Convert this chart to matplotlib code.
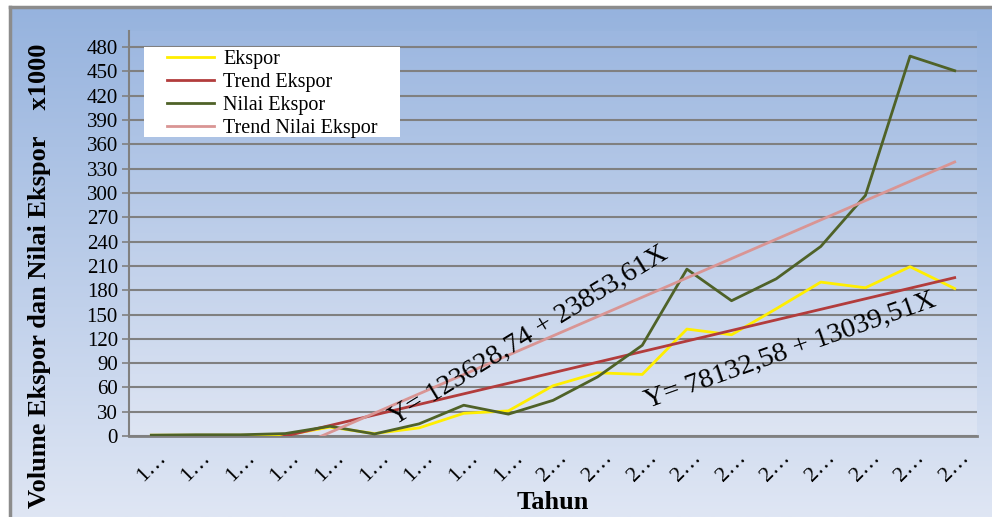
import numpy as np
import matplotlib
matplotlib.use("Agg")
import matplotlib.pyplot as plt
from matplotlib.colors import LinearSegmentedColormap
from matplotlib.patches import Rectangle

# data (x1000)
tahun = ["1…"] * 9 + ["2…"] * 10
ekspor = [1, 1, 1, 1, 11, 3, 10, 28, 31, 62, 78, 76, 132, 125, 157, 190, 183, 209, 182]
nilai_ekspor = [1, 1.5, 1.5, 3, 12, 2.5, 15, 38, 27, 44, 73, 112, 206, 167, 194, 234, 297, 469, 451]
# trend lines, values at each year (negative part hidden below the axis)
trend_ekspor = [-39.23, -26.19, -13.15, -0.11, 12.93, 25.97, 39.01, 52.05, 65.09, 78.13,
                91.17, 104.21, 117.25, 130.29, 143.33, 156.37, 169.41, 182.45, 195.49]
trend_nilai = [-91.05, -67.20, -43.35, -19.49, 4.36, 28.21, 52.07, 75.92, 99.78, 123.63,
               147.48, 171.34, 195.19, 219.04, 242.90, 266.75, 290.60, 314.46, 338.31]
y_ticks = list(range(0, 481, 30))

plt.rcParams['font.family'] = ['Liberation Serif', 'DejaVu Serif']

W, H = 992, 517
fig = plt.figure(figsize=(W / 100, H / 100), dpi=100, facecolor='white')

# background with gradient
bg = fig.add_axes([10 / W, 0, 1 - 10 / W, 1 - 7 / H])
grad = LinearSegmentedColormap.from_list('bg', ['#96b3de', '#dfe6f4'])
bg.imshow(np.linspace(0, 1, 256).reshape(-1, 1), aspect='auto', cmap=grad,
          extent=[0, 1, 0, 1], origin='upper')
bg.set_xlim(0, 1)
bg.set_ylim(0, 1)
bg.set_xticks([])
bg.set_yticks([])
for s in ['right', 'bottom']:
    bg.spines[s].set_visible(False)
for s in ['left', 'top']:
    bg.spines[s].set_color('#8c8c8c')
    bg.spines[s].set_linewidth(2.5)

ax = fig.add_axes([129 / W, 81 / H, 848 / W, 405 / H])
ax.set_facecolor('none')
grad2 = LinearSegmentedColormap.from_list('pa', ['#9cb7e0', '#dee5f3'])
ax.imshow(np.linspace(0, 1, 256).reshape(-1, 1), aspect='auto', cmap=grad2,
          extent=[-0.5, 18.5, 0, 500], origin='upper', zorder=0)

x = np.arange(len(tahun))
ax.plot(x, ekspor, color='#ffee00', lw=2.0, label='Ekspor', zorder=3)
ax.plot(x, trend_ekspor, color='#b23c3c', lw=2.0, label='Trend Ekspor', zorder=3)
ax.plot(x, nilai_ekspor, color='#4f6228', lw=2.0, label='Nilai Ekspor', zorder=3)
ax.plot(x, trend_nilai, color='#d99594', lw=2.0, label='Trend Nilai Ekspor', zorder=3)

ax.set_xlim(-0.5, 18.5)
ax.set_ylim(0, 500)
ax.set_yticks(y_ticks)
ax.set_yticklabels([str(v) for v in y_ticks], fontsize=15)
ax.yaxis.grid(True, color='#808080', lw=1.5, zorder=1)
ax.set_axisbelow(True)
ax.tick_params(axis='y', length=5, width=1.2, color='#808080', pad=3)
ax.set_xticks(x)
ax.set_xticklabels(tahun, fontsize=16, rotation=45, ha='center', va='top')
ax.tick_params(axis='x', length=0, pad=9)

for s in ['top', 'right']:
    ax.spines[s].set_visible(False)
ax.spines['left'].set_color('#808080')
ax.spines['left'].set_linewidth(1.5)
ax.spines['bottom'].set_color('#808080')
ax.spines['bottom'].set_linewidth(2)

ax.text(5.45, 13.5, 'Y= 123628,74 + 23853,61X', fontsize=20.5, rotation=31.5,
        rotation_mode='anchor', ha='left', va='baseline', zorder=4)
ax.text(11.12, 34.5, 'Y= 78132,58 + 13039,51X', fontsize=20.5, rotation=19.5,
        rotation_mode='anchor', ha='left', va='baseline', zorder=4)

# white legend box
ax.add_patch(Rectangle((15 / 848, (436 - 137) / 405), 256 / 848, 90 / 405,
                       transform=ax.transAxes, facecolor='white', edgecolor='none',
                       zorder=5))
leg = ax.legend(loc='upper left', bbox_to_anchor=(38 / 848, (436 - 50) / 405),
                borderaxespad=0, borderpad=0, fontsize=14.5, frameon=False,
                handlelength=2.35, handletextpad=0.45, labelspacing=0.2)
leg.set_zorder(6)

ax.set_xlabel('Tahun', fontsize=19, fontweight='bold')
ax.xaxis.set_label_coords(0.5, -0.135)
fig.text(40 / W, 0.466, 'Volume Ekspor dan Nilai Ekspor    x1000', rotation=90,
         fontsize=19, fontweight='bold', ha='center', va='center')

fig.savefig('out.png', dpi=100)
